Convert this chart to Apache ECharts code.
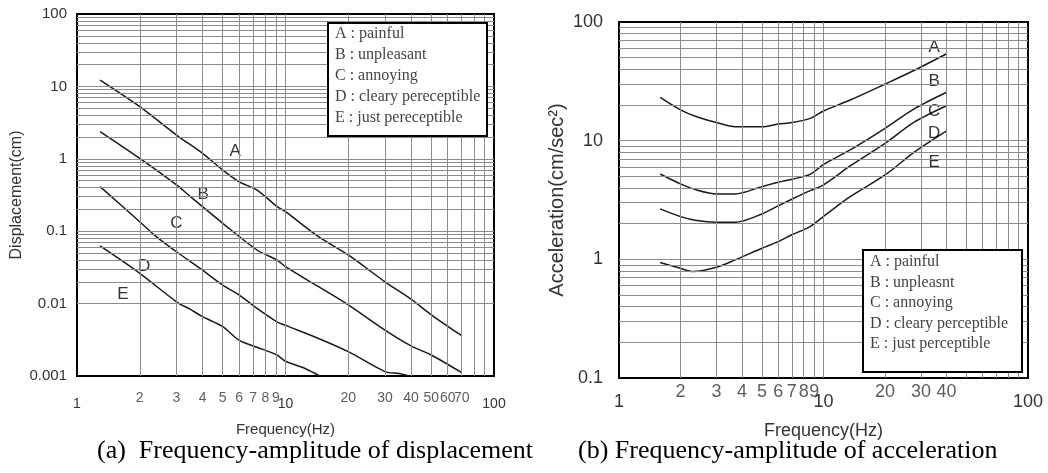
<!DOCTYPE html>
<html>
<head>
<meta charset="utf-8">
<script src="https://cdn.jsdelivr.net/npm/echarts@6/dist/echarts.min.js"></script>
<style>
html, body { margin: 0; padding: 0; background: #fff; }
#main { width: 1048px; height: 473px; }
</style>
</head>
<body>
<div id="main"></div>
<script>
// (a) displacement curves: [frequency (Hz), displacement (cm)]
const dispA = [[1.29, 12.2], [2, 5.25], [3, 2.13], [4, 1.19], [5, 0.70], [6, 0.48], [7.3, 0.37], [9.1, 0.22], [10, 0.186], [14.4, 0.084], [20, 0.047], [30, 0.020], [40, 0.0115], [50, 0.0070], [70, 0.0036]]
const dispB = [[1.29, 2.37], [2, 1.01], [3, 0.435], [3.5, 0.30], [4, 0.218], [5, 0.1285], [7.3, 0.055], [9.1, 0.040], [10, 0.0324], [14.4, 0.0171], [20, 0.0096], [30, 0.0043], [40, 0.0026], [50, 0.00195], [70, 0.00111]]
const dispC = [[1.29, 0.412], [2, 0.135], [2.4, 0.084], [3, 0.052], [4, 0.029], [5, 0.018], [6, 0.0131], [7.3, 0.0086], [9.1, 0.0056], [10, 0.0050], [14.4, 0.0033], [20, 0.00217], [30, 0.00115], [35, 0.00108], [39, 0.001]]
const dispD = [[1.29, 0.0625], [2, 0.0262], [3, 0.0106], [3.5, 0.0083], [4, 0.0066], [5, 0.0048], [6, 0.0031], [7.3, 0.0025], [9.1, 0.00195], [10, 0.0016], [12.4, 0.00127], [14.6, 0.001]]

// (b) acceleration curves: [frequency (Hz), acceleration (cm/sec^2)]
const accA = [[1.59, 23.2], [2, 18.2], [2.4, 15.9], [3, 14.2], [3.7, 13.1], [5, 13.1], [6, 13.8], [7, 14.2], [8.6, 15.4], [10, 17.8], [13.5, 22], [20, 30], [28, 39.4], [40, 54]]
const accB = [[1.59, 5.24], [2, 4.32], [2.4, 3.84], [3, 3.56], [3.7, 3.56], [5, 4.10], [6, 4.46], [7, 4.73], [8.6, 5.2], [10, 6.3], [13.5, 8.35], [20, 12.7], [28, 18.7], [40, 25.6]]
const accC = [[1.59, 2.66], [2, 2.29], [2.4, 2.12], [3, 2.05], [3.7, 2.05], [5, 2.41], [6, 2.82], [7, 3.21], [8.6, 3.79], [10, 4.25], [13.5, 6.12], [20, 9.5], [28, 14.45], [40, 19.7]]
const accD = [[1.59, 0.94], [2, 0.84], [2.3, 0.79], [3, 0.857], [3.7, 0.99], [5, 1.24], [6, 1.41], [7, 1.61], [8.6, 1.89], [10, 2.3], [13.5, 3.37], [20, 5.14], [28, 8.08], [40, 12.1]]

// letters written next to the curves: [frequency, value, text]
const dispCurveLabels = [[5.74, 1.25, 'A'], [4.03, 0.327, 'B'], [3.0, 0.128, 'C'], [2.1, 0.0324, 'D'], [1.66, 0.0136, 'E']]
const accCurveLabels = [[34.8, 61, 'A'], [34.8, 31.4, 'B'], [34.8, 17.6, 'C'], [34.8, 11.6, 'D'], [34.8, 6.6, 'E']]

const dispLegend = ['A : painful', 'B : unpleasant', 'C : annoying', 'D : cleary pereceptible', 'E : just pereceptible']
const accLegend = ['A : painful', 'B : unpleasnt', 'C : annoying', 'D : cleary perceptible', 'E : just perceptible']

// tick labels between the decades
const dispFreqTicks = [2, 3, 4, 5, 6, 7, 8, 9, 20, 30, 40, 50, 60, 70]
const accFreqTicks = [2, 3, 4, 5, 6, 7, 8, 9, 20, 30, 40]

const freqRange = [1, 100]
const dispRange = [0.001, 100]
const accRange = [0.1, 100]

const SANS = '"Liberation Sans", Arial, sans-serif'
const SERIF = '"Liberation Serif", "Times New Roman", serif'
const INK = '#333'

// 1..9 x 10^n inside (min, max), for the log-paper grid
const gridValues = (min, max) => {
    const out = []
    for (let e = Math.round(Math.log10(min)); Math.pow(10, e) < max; e++) {
        for (let m = 1; m <= 9; m++) {
            const v = +(m * Math.pow(10, e)).toPrecision(3)
            if (v > min && v < max) out.push(v)
        }
    }
    return out
}

const curve = (name, data, i) => ({
    name,
    type: 'line',
    xAxisIndex: i,
    yAxisIndex: i,
    data,
    smooth: 0.3,
    symbol: 'none',
    silent: true,
    z: 3,
    lineStyle: { color: '#1a1a1a', width: 1.5 }
})

const logPaper = (i, yRange) => ({
    type: 'line',
    xAxisIndex: i,
    yAxisIndex: i,
    data: [],
    silent: true,
    z: 1,
    markLine: {
        symbol: 'none',
        silent: true,
        animation: false,
        label: { show: false },
        emphasis: { disabled: true },
        lineStyle: { color: '#8c8c8c', width: 1, type: 'solid' },
        data: gridValues(freqRange[0], freqRange[1]).map(v => ({ xAxis: v }))
            .concat(gridValues(yRange[0], yRange[1]).map(v => ({ yAxis: v })))
    }
})

const textMarks = (i, data, label) => ({
    type: 'scatter',
    xAxisIndex: i,
    yAxisIndex: i,
    data,
    symbolSize: 1,
    itemStyle: { color: 'rgba(0,0,0,0)' },
    clip: false,
    silent: true,
    z: 4,
    label: Object.assign({
        show: true,
        formatter: p => p.value[2],
        color: INK,
        textBorderWidth: 0,
        fontFamily: SANS
    }, label)
})

const fmtNum = v => String(+(+v).toPrecision(6))

const chart = echarts.init(document.getElementById('main'), null, { renderer: 'canvas' })

// legend drawn as a framed text box, on top of the grid lines
const legendBox = (x, y, w, h, lines, firstY, gap) => [{
    type: 'rect',
    z: 100,
    shape: { x, y, width: w, height: h },
    style: { fill: '#fff', stroke: '#000', lineWidth: 2 }
}].concat(lines.map((t, k) => ({
    type: 'text',
    z: 101,
    x: x + 7,
    y: y + firstY + k * gap,
    style: { text: t, font: '16px ' + SERIF, fill: '#444', verticalAlign: 'middle' }
})))

chart.setOption({
    animation: false,
    backgroundColor: '#fff',
    grid: [
        { left: 77, top: 14, width: 417, height: 362, show: true, borderColor: '#000', borderWidth: 2, backgroundColor: '#fff' },
        { left: 619, top: 22, width: 409, height: 356, show: true, borderColor: '#000', borderWidth: 2, backgroundColor: '#fff' }
    ],
    xAxis: [0, 1].map(i => ({
        type: 'log',
        logBase: 10,
        gridIndex: i,
        min: freqRange[0],
        max: freqRange[1],
        name: 'Frequency(Hz)',
        nameLocation: 'middle',
        nameGap: i ? 44 : 46,
        nameTextStyle: { fontFamily: SANS, fontSize: i ? 18 : 15, color: INK },
        axisLine: { show: false },
        axisTick: { show: false },
        splitLine: { show: false },
        axisLabel: {
            showMinLabel: true,
            showMaxLabel: true,
            margin: i ? 15 : 21,
            fontFamily: SANS,
            fontSize: i ? 18 : 14,
            color: INK,
            formatter: fmtNum
        }
    })),
    yAxis: [
        {
            type: 'log',
            logBase: 10,
            gridIndex: 0,
            min: dispRange[0],
            max: dispRange[1],
            name: 'Displacement(cm)',
            nameLocation: 'middle',
            nameGap: 52,
            nameTextStyle: { fontFamily: SANS, fontSize: 16, color: INK },
            axisLine: { show: false },
            axisTick: { show: false },
            splitLine: { show: false },
            axisLabel: { margin: 10, fontFamily: SANS, fontSize: 15, color: INK, formatter: fmtNum }
        },
        {
            type: 'log',
            logBase: 10,
            gridIndex: 1,
            min: accRange[0],
            max: accRange[1],
            name: 'Acceleration(cm/sec²)',
            nameLocation: 'middle',
            nameGap: 52,
            nameTextStyle: { fontFamily: SANS, fontSize: 20, color: INK },
            axisLine: { show: false },
            axisTick: { show: false },
            splitLine: { show: false },
            axisLabel: { margin: 16, fontFamily: SANS, fontSize: 18, color: INK, formatter: fmtNum }
        }
    ],
    series: [
        logPaper(0, dispRange),
        logPaper(1, accRange),
        curve('A', dispA, 0),
        curve('B', dispB, 0),
        curve('C', dispC, 0),
        curve('D', dispD, 0),
        curve('A', accA, 1),
        curve('B', accB, 1),
        curve('C', accC, 1),
        curve('D', accD, 1),
        textMarks(0, dispCurveLabels, { position: 'inside', fontSize: 17, color: '#000' }),
        textMarks(1, accCurveLabels, { position: 'inside', fontSize: 17, color: '#000' }),
        textMarks(0, dispFreqTicks.map(v => [v, dispRange[0], String(v)]), { position: 'bottom', distance: 15, fontSize: 14 }),
        textMarks(1, accFreqTicks.map(v => [v, accRange[0], String(v)]), { position: 'bottom', distance: 5, fontSize: 18 })
    ],
    graphic: legendBox(328, 23, 159, 113, dispLegend, 11, 21)
        .concat(legendBox(863, 250, 159, 122, accLegend, 12, 20.5))
        .concat([
            {
                type: 'text', x: 97, y: 451, z: 100,
                style: { text: '(a)  Frequency-amplitude of displacement', font: '26px ' + SERIF, fill: '#000', verticalAlign: 'middle' }
            },
            {
                type: 'text', x: 578, y: 451, z: 100,
                style: { text: '(b) Frequency-amplitude of acceleration', font: '26px ' + SERIF, fill: '#000', verticalAlign: 'middle' }
            }
        ])
})
</script>
</body>
</html>
